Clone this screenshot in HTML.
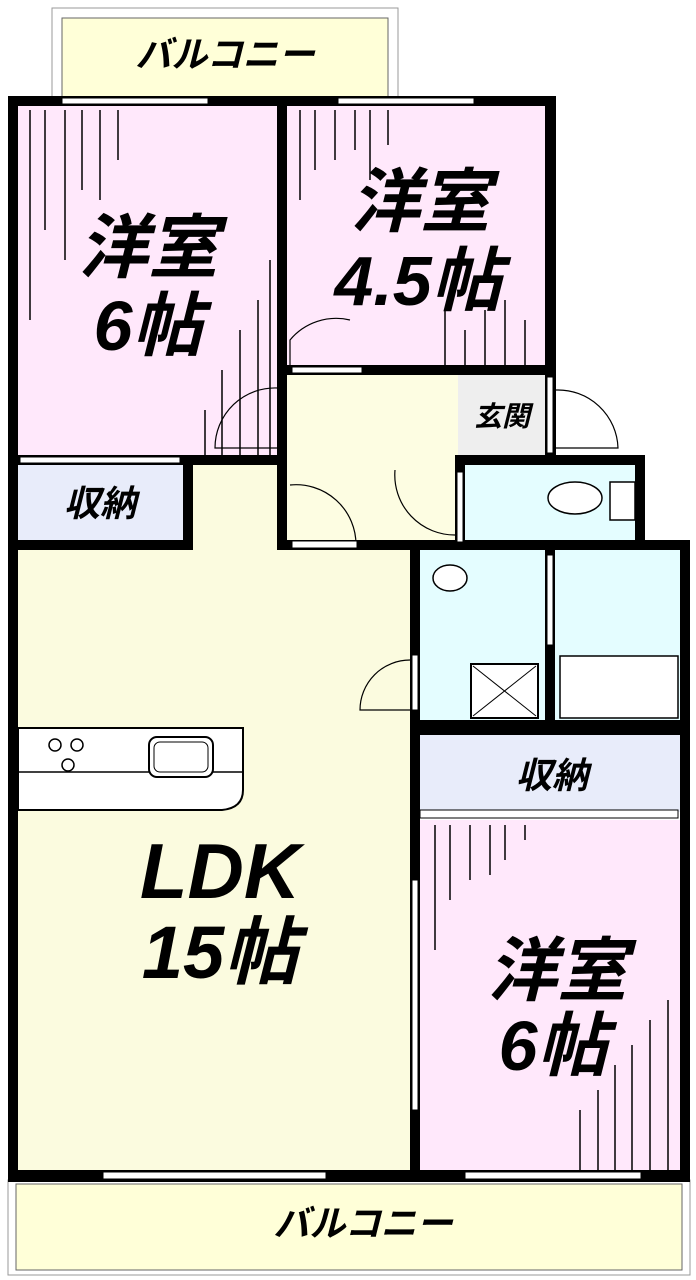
<!DOCTYPE html>
<html><head><meta charset="utf-8"><style>
html,body{margin:0;padding:0;background:#fff;width:696px;height:1280px;overflow:hidden}
svg text{font-family:"Liberation Sans","Noto Sans CJK JP",sans-serif;font-weight:bold;font-style:italic;fill:#000}
</style></head><body>
<svg width="696" height="1280" viewBox="0 0 696 1280" xmlns="http://www.w3.org/2000/svg">
<rect x="52" y="8" width="346" height="94" fill="#fff" stroke="#999" stroke-width="1"/>
<rect x="62" y="18" width="326" height="82" fill="#ffffd8" stroke="#666" stroke-width="1"/>
<rect x="8" y="1180" width="682" height="95" fill="#fff" stroke="#999"/>
<rect x="16" y="1184" width="666" height="86" fill="#ffffd8" stroke="#666"/>
<rect x="18" y="106" width="259" height="350" fill="#ffe8fb"/>
<rect x="287" y="106" width="258" height="260" fill="#ffe8fb"/>
<rect x="287" y="375" width="171" height="173" fill="#fdfde2"/>
<rect x="458" y="375" width="87" height="80" fill="#eeeeee"/>
<rect x="18" y="465" width="165" height="75" fill="#e8ecfa"/>
<rect x="18" y="550" width="392" height="620" fill="#fbfbdf"/>
<rect x="193" y="465" width="84" height="90" fill="#fbfbdf"/>
<rect x="465" y="465" width="170" height="75" fill="#e4fdff"/>
<rect x="420" y="550" width="125" height="170" fill="#e4fdff"/>
<rect x="555" y="550" width="125" height="170" fill="#e4fdff"/>
<rect x="420" y="735" width="260" height="77" fill="#e8ecfa"/>
<rect x="420" y="820" width="260" height="350" fill="#ffe8fb"/>
<g stroke="#000" stroke-width="1.5">
<line x1="30" y1="110" x2="30" y2="320"/><line x1="45" y1="110" x2="45" y2="230"/><line x1="65" y1="110" x2="65" y2="260"/><line x1="82" y1="110" x2="82" y2="190"/><line x1="100" y1="110" x2="100" y2="200"/><line x1="118" y1="110" x2="118" y2="160"/>
<line x1="205" y1="410" x2="205" y2="455"/><line x1="222" y1="370" x2="222" y2="455"/><line x1="240" y1="330" x2="240" y2="455"/><line x1="258" y1="300" x2="258" y2="455"/><line x1="270" y1="260" x2="270" y2="455"/>
<line x1="300" y1="110" x2="300" y2="200"/><line x1="315" y1="110" x2="315" y2="170"/><line x1="335" y1="110" x2="335" y2="160"/><line x1="355" y1="110" x2="355" y2="150"/><line x1="370" y1="110" x2="370" y2="180"/><line x1="388" y1="110" x2="388" y2="145"/>
<line x1="445" y1="310" x2="445" y2="365"/><line x1="465" y1="330" x2="465" y2="365"/><line x1="485" y1="310" x2="485" y2="365"/><line x1="505" y1="300" x2="505" y2="365"/><line x1="525" y1="320" x2="525" y2="365"/>
<line x1="435" y1="825" x2="435" y2="950"/><line x1="450" y1="825" x2="450" y2="900"/><line x1="470" y1="825" x2="470" y2="880"/><line x1="490" y1="825" x2="490" y2="875"/><line x1="505" y1="825" x2="505" y2="860"/><line x1="525" y1="825" x2="525" y2="840"/>
<line x1="580" y1="1110" x2="580" y2="1170"/><line x1="598" y1="1090" x2="598" y2="1170"/><line x1="615" y1="1065" x2="615" y2="1170"/><line x1="632" y1="1045" x2="632" y2="1170"/><line x1="650" y1="1020" x2="650" y2="1170"/><line x1="668" y1="1000" x2="668" y2="1170"/>
</g>
<path d="M18 728 H243 V790 Q243 808 222 810 H18 Z" fill="#fff" stroke="#000" stroke-width="2"/>
<line x1="18" y1="772" x2="243" y2="772" stroke="#000" stroke-width="1.5"/>
<rect x="149" y="737" width="64" height="40" rx="8" fill="#fff" stroke="#000" stroke-width="2"/>
<rect x="154" y="742" width="54" height="30" rx="6" fill="none" stroke="#000"/>
<g fill="#fff" stroke="#000" stroke-width="1.5"><circle cx="55" cy="745" r="6"/><circle cx="77" cy="745" r="6"/><circle cx="68" cy="765" r="6"/></g>
<rect x="471" y="664" width="67" height="54" fill="#fff" stroke="#000" stroke-width="2"/>
<line x1="473" y1="666" x2="536" y2="716" stroke="#000"/><line x1="536" y1="666" x2="473" y2="716" stroke="#000"/>
<ellipse cx="450" cy="578" rx="17" ry="13" fill="#fff" stroke="#000" stroke-width="1.5"/>
<rect x="560" y="656" width="118" height="62" fill="#fff" stroke="#000" stroke-width="1.5"/>
<ellipse cx="575" cy="498" rx="27" ry="16" fill="#fff" stroke="#000" stroke-width="1.5"/>
<rect x="610" y="482" width="25" height="38" fill="#fff" stroke="#000" stroke-width="1.5"/>
<g fill="none" stroke="#000" stroke-width="1.2">
<path d="M290 365 V340 A60 60 0 0 1 350 320"/>
<path d="M278 388 A60 60 0 0 0 215 448 H278"/>
<path d="M556 390 A60 60 0 0 1 618 448 H556"/>
<path d="M290 485 A60 60 0 0 1 356 545"/>
<path d="M395 470 A60 60 0 0 0 456 535"/>
<path d="M410 660 A50 50 0 0 0 360 710 H410"/>
</g>
<g fill="#000">
<rect x="8" y="96" width="548" height="10"/>
<rect x="8" y="96" width="10" height="1086"/>
<rect x="277" y="96" width="10" height="454"/>
<rect x="545" y="96" width="11" height="360"/>
<rect x="287" y="365" width="258" height="10"/>
<rect x="8" y="455" width="279" height="10"/>
<rect x="183" y="455" width="10" height="95"/>
<rect x="8" y="540" width="185" height="10"/>
<rect x="455" y="455" width="190" height="10"/>
<rect x="455" y="455" width="10" height="93"/>
<rect x="635" y="455" width="10" height="93"/>
<rect x="277" y="540" width="413" height="10"/>
<rect x="680" y="540" width="10" height="642"/>
<rect x="410" y="540" width="10" height="632"/>
<rect x="545" y="550" width="10" height="175"/>
<rect x="410" y="720" width="280" height="15"/>
<rect x="8" y="1170" width="682" height="12"/>
</g>
<g fill="#fff" stroke="#000" stroke-width="1">
<rect x="62" y="98" width="146" height="6"/><rect x="338" y="98" width="136" height="6"/>
<rect x="103" y="1172" width="223" height="7"/><rect x="465" y="1172" width="176" height="7"/>
<rect x="20" y="457" width="160" height="6"/>
<rect x="420" y="810" width="258" height="8"/>
<rect x="412" y="880" width="6" height="230"/>
<rect x="292" y="367" width="70" height="6"/>
<rect x="292" y="541" width="65" height="7"/>
<rect x="457" y="472" width="6" height="70"/>
<rect x="547" y="555" width="6" height="90"/>
<rect x="412" y="655" width="6" height="55"/>
<rect x="547" y="377" width="6" height="76"/>
</g>
<text x="225" y="67" font-size="36" text-anchor="middle">バルコニー</text>
<text x="363" y="1236" font-size="36" text-anchor="middle">バルコニー</text>
<text x="148" y="272" font-size="70" text-anchor="middle">洋室</text>
<text x="148" y="350" font-size="70" text-anchor="middle">6帖</text>
<text x="420" y="226" font-size="70" text-anchor="middle">洋室</text>
<text x="418" y="305" font-size="70" text-anchor="middle">4.5帖</text>
<text x="220" y="898" font-size="78" text-anchor="middle">LDK</text>
<text x="220" y="978" font-size="74" text-anchor="middle">15帖</text>
<text x="557" y="995" font-size="70" text-anchor="middle">洋室</text>
<text x="553" y="1070" font-size="70" text-anchor="middle">6帖</text>
<text x="100" y="516" font-size="36" text-anchor="middle">収納</text>
<text x="552" y="788" font-size="36" text-anchor="middle">収納</text>
<text x="502" y="426" font-size="28" text-anchor="middle">玄関</text>
</svg>
</body></html>
